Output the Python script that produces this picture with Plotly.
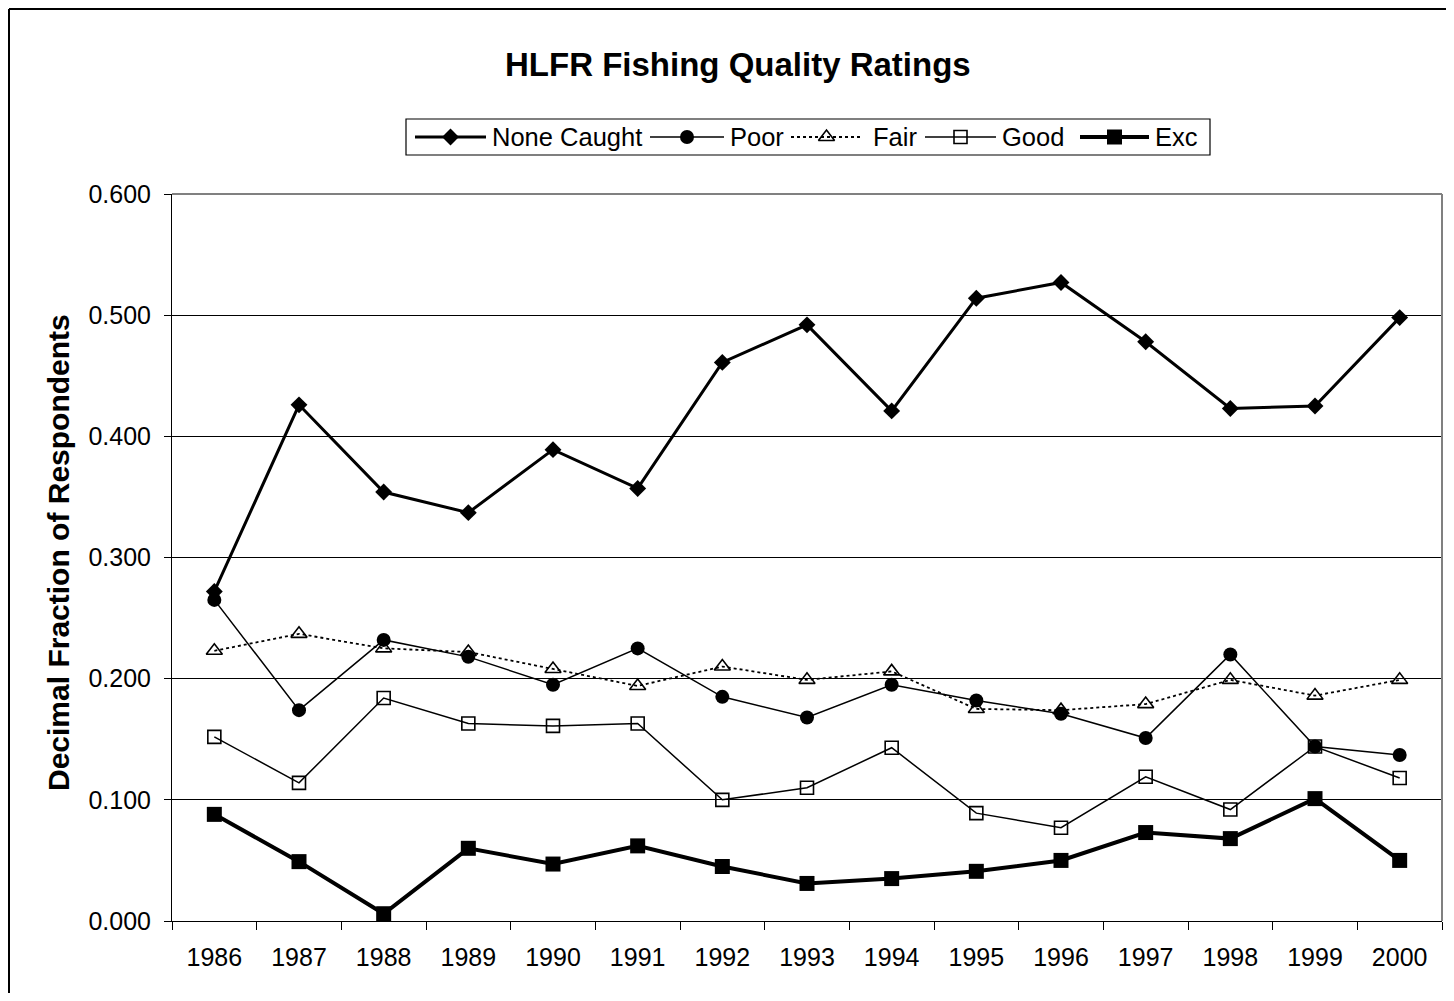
import plotly.graph_objects as go

years = ["1986", "1987", "1988", "1989", "1990", "1991", "1992", "1993",
         "1994", "1995", "1996", "1997", "1998", "1999", "2000"]
none_caught = [0.272, 0.426, 0.354, 0.337, 0.389, 0.357, 0.461, 0.492,
               0.421, 0.514, 0.527, 0.478, 0.423, 0.425, 0.498]
poor = [0.265, 0.174, 0.232, 0.218, 0.195, 0.225, 0.185, 0.168,
        0.195, 0.182, 0.171, 0.151, 0.220, 0.144, 0.137]
fair = [0.223, 0.237, 0.225, 0.222, 0.208, 0.194, 0.210, 0.199,
        0.206, 0.175, 0.174, 0.179, 0.199, 0.186, 0.199]
good = [0.152, 0.114, 0.184, 0.163, 0.161, 0.163, 0.100, 0.110,
        0.143, 0.089, 0.077, 0.119, 0.092, 0.144, 0.118]
exc = [0.088, 0.049, 0.006, 0.060, 0.047, 0.062, 0.045, 0.031,
       0.035, 0.041, 0.050, 0.073, 0.068, 0.101, 0.050]
y_ticks = [0.0, 0.1, 0.2, 0.3, 0.4, 0.5, 0.6]
series_names = ["None Caught", "Poor", "Fair", "Good", "Exc"]

FONT = "Liberation Sans, Arial, sans-serif"

# page geometry (the page body adds an 8px offset)
W, H, OFF = 1438, 985, 8


def px(X):
    return (X - OFF) / W


def py(Y):
    return 1 - (Y - OFF) / H


styles = {
    "None Caught": dict(line=dict(color="black", width=3),
                        marker=dict(symbol="diamond", size=13, color="black")),
    "Poor": dict(line=dict(color="black", width=1.5),
                 marker=dict(symbol="circle", size=14, color="black")),
    "Fair": dict(line=dict(color="black", width=1.8, dash="dot"),
                 marker=dict(symbol="triangle-up-open", size=14, color="black",
                             line=dict(width=1.6, color="black"))),
    "Good": dict(line=dict(color="black", width=1.5),
                 marker=dict(symbol="square-open", size=13, color="black",
                             line=dict(width=1.6, color="black"))),
    "Exc": dict(line=dict(color="black", width=4),
                marker=dict(symbol="square", size=15, color="black")),
}
values = [none_caught, poor, fair, good, exc]

fig = go.Figure()
for name, vals in zip(series_names, values):
    fig.add_trace(go.Scatter(x=years, y=vals, name=name, mode="lines+markers",
                             cliponaxis=False, showlegend=False, **styles[name]))

# custom legend drawn on a pixel-unit helper axis
leg_line_x = [(415, 486), (650, 724), (791, 862), (925, 996), (1080, 1149)]
leg_text_x = [490, 728, 871, 1000, 1153]
leg_y = 137
for name, (a, b) in zip(series_names, leg_line_x):
    st = styles[name]
    fig.add_trace(go.Scatter(x=[a, b], y=[leg_y, leg_y], mode="lines", line=st["line"],
                             xaxis="x2", yaxis="y2", showlegend=False, hoverinfo="skip",
                             cliponaxis=False))
    fig.add_trace(go.Scatter(x=[(a + b) / 2], y=[leg_y], mode="markers", marker=st["marker"],
                             xaxis="x2", yaxis="y2", showlegend=False, hoverinfo="skip",
                             cliponaxis=False))

annotations = [
    dict(text="<b>HLFR Fishing Quality Ratings</b>", xref="paper", yref="paper",
         x=px(737.5), y=py(64), xanchor="center", yanchor="middle", showarrow=False,
         font=dict(size=33, family=FONT, color="black")),
    dict(text="<b>Decimal Fraction of Respondents</b>", xref="paper", yref="paper",
         x=px(58), y=py(553), xanchor="center", yanchor="middle", showarrow=False,
         textangle=-90, font=dict(size=30, family=FONT, color="black")),
]
for name, tx in zip(series_names, leg_text_x):
    annotations.append(dict(text=name, xref="x2", yref="y2", x=tx, y=leg_y,
                            xanchor="left", yanchor="middle", showarrow=False,
                            font=dict(size=25.5, family=FONT, color="black")))

fig.update_layout(
    width=W, height=H,
    margin=dict(l=0, r=0, t=0, b=0, pad=0, autoexpand=False),
    paper_bgcolor="white", plot_bgcolor="white",
    font=dict(family=FONT, color="black", size=25),
    showlegend=False,
    xaxis=dict(type="category", tickson="boundaries", ticks="outside", ticklen=8,
               tickcolor="black", tickwidth=1, showline=True, linecolor="black",
               linewidth=1, showgrid=False, tickfont=dict(size=25, family=FONT),
               ticklabelstandoff=14, range=[-0.5, 14.5], zeroline=False,
               domain=[px(172), px(1442)], anchor="y", automargin=False),
    yaxis=dict(range=[0, 0.6], tickvals=y_ticks, tickformat=".3f", ticks="outside",
               ticklen=7, tickcolor="black", showline=True, linecolor="black",
               linewidth=1, showgrid=True, gridcolor="black", gridwidth=1,
               zeroline=False, tickfont=dict(size=25, family=FONT),
               ticklabelstandoff=8, domain=[py(921), py(194)], anchor="x",
               automargin=False),
    xaxis2=dict(domain=[px(406), px(1210)], range=[406, 1210], visible=False,
                anchor="y2", fixedrange=True, automargin=False),
    yaxis2=dict(domain=[py(155), py(119)], range=[155, 119], visible=False,
                anchor="x2", fixedrange=True, automargin=False),
    annotations=annotations,
    shapes=[
        # plot-area border (grey, top and right)
        dict(type="line", xref="paper", yref="paper", x0=px(172), x1=px(1442),
             y0=py(194), y1=py(194), line=dict(color="#808080", width=2)),
        dict(type="line", xref="paper", yref="paper", x0=px(1442), x1=px(1442),
             y0=py(921), y1=py(194), line=dict(color="#808080", width=2)),
        # legend box
        dict(type="rect", xref="paper", yref="paper", x0=px(406), x1=px(1210),
             y0=py(155), y1=py(119), line=dict(color="black", width=1.2),
             fillcolor="rgba(0,0,0,0)"),
        # outer chart border (left and top visible)
        dict(type="line", xref="paper", yref="paper", x0=px(9), x1=px(9),
             y0=0, y1=py(9), line=dict(color="black", width=2)),
        dict(type="line", xref="paper", yref="paper", x0=px(9), x1=1,
             y0=py(9), y1=py(9), line=dict(color="black", width=2)),
    ],
)

fig.write_html("out.html")
